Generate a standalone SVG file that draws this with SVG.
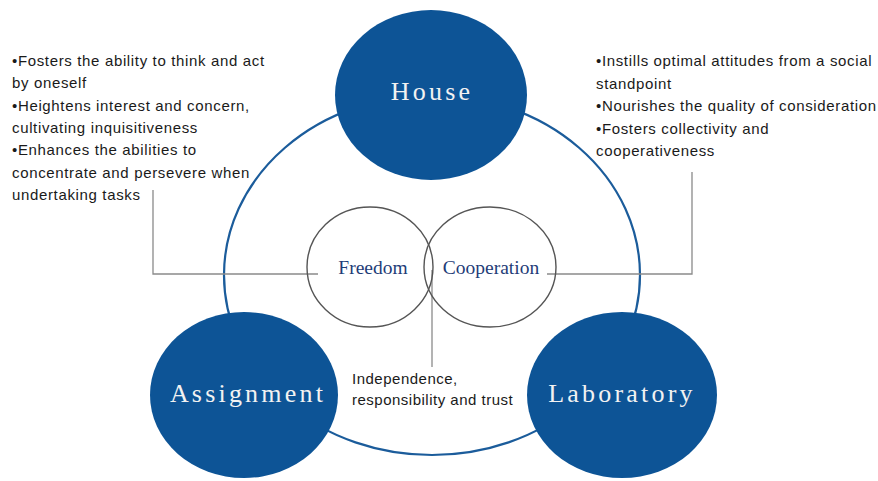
<svg xmlns="http://www.w3.org/2000/svg" width="878" height="481" viewBox="0 0 878 481">
<style>
.bg{fill:#ffffff}
.ring{fill:none;stroke:#1b5c9b;stroke-width:2.2}
.venn{fill:none;stroke:#555555;stroke-width:1.4}
.lead{fill:none;stroke:#8a8a8a;stroke-width:1.3}
.node{fill:#0d5496}
.nlabel{font-family:"Liberation Serif","Times New Roman",serif;font-size:26px;fill:#f2f2f2;text-anchor:middle;letter-spacing:3.2px}
.vlabel{font-family:"Liberation Serif","Times New Roman",serif;font-size:19.5px;fill:#1f3d78;text-anchor:middle}
.body{font-family:"Liberation Sans",Arial,sans-serif;font-size:15px;fill:#1a1a1a;letter-spacing:0.65px}
.mid{font-family:"Liberation Sans",Arial,sans-serif;font-size:15px;fill:#1a1a1a;letter-spacing:0.5px}
</style>
<rect class="bg" x="0" y="0" width="878" height="481"/>
<g id="connectors">
<ellipse class="ring" cx="432" cy="275" rx="208" ry="180"/>
<polyline class="lead" points="153,190 153,274 318,274"/>
<polyline class="lead" points="547,274 692,274 692,172"/>
<line class="lead" x1="432" y1="270" x2="432" y2="367"/>
</g>
<g id="venn-freedom">
<ellipse class="venn" cx="370" cy="267" rx="63" ry="60"/>
<text class="vlabel" x="373" y="274">Freedom</text>
</g>
<g id="venn-cooperation">
<ellipse class="venn" cx="490" cy="267" rx="66" ry="60"/>
<text class="vlabel" x="491" y="274">Cooperation</text>
</g>
<g id="node-house">
<ellipse class="node" cx="431" cy="95" rx="96" ry="85"/>
<text class="nlabel" x="432" y="100">House</text>
</g>
<g id="node-assignment">
<ellipse class="node" cx="244" cy="395" rx="94" ry="83"/>
<text class="nlabel" x="248" y="402">Assignment</text>
</g>
<g id="node-laboratory">
<ellipse class="node" cx="622" cy="395" rx="95" ry="83"/>
<text class="nlabel" x="622" y="402">Laboratory</text>
</g>
<g id="text-left">
<text class="body" x="12" y="66">•Fosters the ability to think and act</text>
<text class="body" x="12" y="88.3">by oneself</text>
<text class="body" x="12" y="110.7">•Heightens interest and concern,</text>
<text class="body" x="12" y="133">cultivating inquisitiveness</text>
<text class="body" x="12" y="155.3">•Enhances the abilities to</text>
<text class="body" x="12" y="177.7">concentrate and persevere when</text>
<text class="body" x="12" y="200">undertaking tasks</text>
</g>
<g id="text-right">
<text class="body" x="596" y="66">•Instills optimal attitudes from a social</text>
<text class="body" x="596" y="88.5">standpoint</text>
<text class="body" x="596" y="111">•Nourishes the quality of consideration</text>
<text class="body" x="596" y="133.5">•Fosters collectivity and</text>
<text class="body" x="596" y="156">cooperativeness</text>
</g>
<g id="text-center">
<text class="mid" x="352" y="384">Independence,</text>
<text class="mid" x="352" y="405">responsibility and trust</text>
</g>
</svg>
